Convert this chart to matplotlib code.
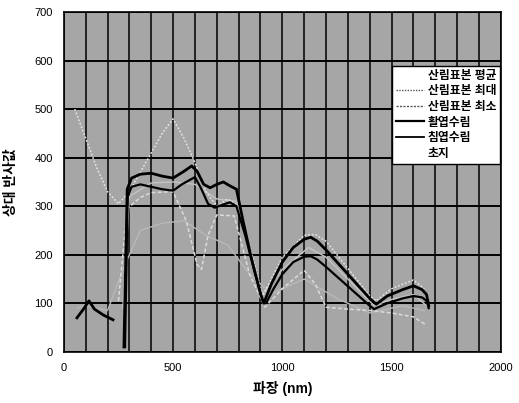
#!/usr/bin/env python3
"""Relative reflectance spectra: forest samples, broadleaf / conifer forest and grassland."""
import numpy as np
import matplotlib
matplotlib.use("Agg")
import matplotlib.pyplot as plt
from matplotlib.lines import Line2D

nan = np.nan

# wavelengths (nm) and relative reflectance
wl_broad = [60, 90, 115, 140, 180, 225, nan, 275, 290, 310, 350, 400, 450, 500, 550, 585,
            610, 640, 670, 700, 730, 760, 790, 820, 860, 900, 915, 950, 1000, 1050, 1100,
            1130, 1160, 1200, 1300, 1400, 1430, 1480, 1550, 1600, 1640, 1660, 1670]
val_broad = [70, 88, 105, 88, 76, 66, nan, 10, 335, 358, 366, 368, 362, 358, 372, 383,
             372, 345, 338, 345, 350, 342, 335, 270, 190, 120, 100, 140, 185, 215, 232,
             236, 228, 210, 160, 110, 98, 115, 128, 136, 128, 118, 95]

wl_conif = [280, 292, 310, 350, 400, 450, 500, 540, 600, 630, 660, 690, 720, 760, 790,
            830, 870, 910, 925, 960, 1000, 1050, 1100, 1130, 1160, 1200, 1300, 1400, 1420,
            1480, 1550, 1600, 1640, 1660, 1670]
val_conif = [10, 320, 340, 345, 340, 335, 332, 345, 360, 335, 305, 297, 302, 308, 300,
             240, 170, 105, 100, 130, 160, 185, 196, 197, 190, 175, 135, 95, 88,
             100, 110, 115, 112, 105, 90]

wl_max = [50, 100, 150, 200, 250, 300, 350, 400, 450, 500, 550, 600, 650, 700, 750, 800,
          850, 910, 1000, 1100, 1150, 1200, 1300, 1400, 1430, 1500, 1600, 1650]
val_max = [500, 440, 380, 330, 305, 330, 370, 410, 450, 480, 440, 390, 330, 300, 315, 300,
           220, 115, 195, 240, 242, 228, 172, 115, 105, 130, 148, 130]

wl_min = [250, 290, 350, 400, 500, 560, 610, 630, 660, 700, 780, 850, 920, 1000, 1100,
          1150, 1200, 1300, 1400, 1500, 1600, 1660]
val_min = [105, 295, 318, 328, 330, 270, 180, 170, 240, 282, 280, 160, 92, 130, 168,
           140, 92, 88, 85, 80, 72, 55]

wl_mean = [270, 300, 400, 500, 600, 700, 790, 900, 1000, 1120, 1200, 1300, 1420, 1500,
           1600, 1660]
val_mean = [90, 320, 348, 350, 345, 315, 310, 115, 170, 215, 195, 150, 95, 108, 118, 95]

wl_grass = [60, 100, 200, 280, 350, 450, 550, 650, 750, 850, 950, 1100, 1250, 1400, 1550,
            1650]
val_grass = [90, 95, 85, 180, 250, 265, 270, 240, 220, 160, 120, 150, 110, 80, 95, 85]

labels = ["산림표본 평균", "산림표본 최대", "산림표본 최소", "활엽수림", "침엽수림", "초지"]

plt.rcParams["font.family"] = ["Liberation Sans", "Noto Sans CJK KR"]

fig = plt.figure(figsize=(5.19, 4.03), dpi=100)
ax = fig.add_axes([0.123, 0.127, 0.842, 0.843])
ax.set_facecolor("#a6a6a6")

ax.plot(wl_grass, val_grass, color="#b8b8b8", linewidth=1.0)
ax.plot(wl_mean, val_mean, color="#c4c4c4", linewidth=1.0)
ax.plot(wl_max, val_max, color="#e4e4e4", linewidth=1.1, linestyle=(0, (1.2, 1.2)))
ax.plot(wl_min, val_min, color="#dcdcdc", linewidth=1.1, linestyle=(0, (2.5, 1.5)))
ax.plot(wl_broad, val_broad, color="black", linewidth=2.0)
ax.plot(wl_conif, val_conif, color="black", linewidth=1.6)

ax.set_xlim(0, 2000)
ax.set_ylim(0, 700)
ax.set_xticks([0, 500, 1000, 1500, 2000])
ax.set_xticks(np.arange(0, 2001, 100), minor=True)
ax.set_yticks(np.arange(0, 701, 100))
ax.grid(True, which="both", axis="x", color="black", linewidth=1.1)
ax.grid(True, which="major", axis="y", color="black", linewidth=1.4)
ax.set_axisbelow(True)
ax.tick_params(which="both", length=0, labelsize=8, pad=8)
for sp in ax.spines.values():
    sp.set_linewidth(1.2)

ax.set_xlabel("파장 (nm)", fontsize=10, fontweight="bold", labelpad=6)
ax.set_ylabel("상대 반사값", fontsize=10, fontweight="bold", labelpad=12)

handles = [
    Line2D([], [], color="white", linewidth=1.0),
    Line2D([], [], color="#555555", linewidth=1.0, linestyle=(0, (1, 1))),
    Line2D([], [], color="#555555", linewidth=1.0, linestyle=(0, (1.5, 1))),
    Line2D([], [], color="black", linewidth=1.6),
    Line2D([], [], color="black", linewidth=1.3),
    Line2D([], [], color="white", linewidth=1.0),
]
leg = ax.legend(handles, labels, loc="upper right", bbox_to_anchor=(0.999, 0.842),
                prop={"weight": "bold", "size": 8.5}, frameon=True,
                fancybox=False, edgecolor="black", framealpha=1, handlelength=2.4,
                handletextpad=0.3, labelspacing=0.3, borderpad=0.35, borderaxespad=0)
leg.get_frame().set_linewidth(1.0)

fig.savefig("out.png", dpi=100)
